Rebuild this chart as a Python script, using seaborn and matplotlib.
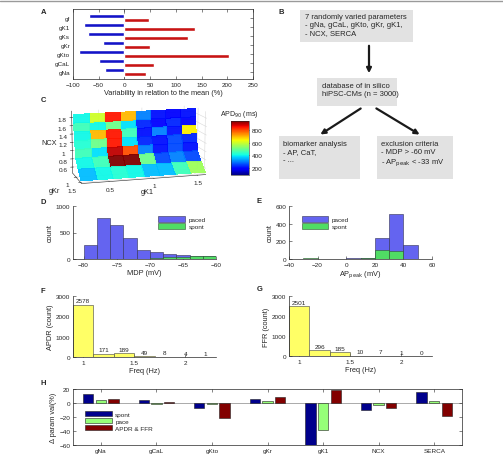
import numpy as np
import pandas as pd
import matplotlib
matplotlib.use("Agg")
import matplotlib.pyplot as plt
import seaborn as sns
from matplotlib.patches import Rectangle
from matplotlib import colors

# ---- data ----
# A: variability of parameters
a_params = ['gf', 'gK1', 'gKs', 'gKr', 'gKto', 'gCaL', 'gNa']
a_low = [-68, -79, -71, -41, -89, -49, -37]
a_high = [47, 138, 124, 50, 203, 57, 42]

# C: APD90 map (rows = NCX, cols = gK1)
c_gk1 = [0.2, 0.375, 0.55, 0.725, 0.9, 1.075, 1.25, 1.425, 1.6]
c_ncx = [1.9, 1.7, 1.5, 1.3, 1.1, 0.9, 0.7, 0.5]
c_gkr = [0.8, 0.8, 0.85, 0.9, 0.95, 1.0, 1.25, 1.55]
c_apd = [
    [400, 600, 850, 700, 300, 200, 180, 200, 200],
    [450, 400, 500, 380, 220, 180, 220, 180, 200],
    [400, 700, 850, 450, 200, 300, 200, 650, 200],
    [420, 500, 850, 380, 220, 200, 250, 220, 200],
    [450, 380, 900, 800, 300, 200, 250, 200, 200],
    [400, 450, 950, 950, 500, 250, 300, 250, 250],
    [350, 400, 420, 400, 350, 350, 450, 550, 350],
    [300, 300, 350, 400, 700, 850, 900, 850, 600],
]

# D: MDP histogram
d_edges = [-82, -80, -78, -76, -74, -72, -70, -68, -66, -64, -62, -60]
d_paced = [0, 262, 781, 637, 400, 169, 125, 87, 75, 62, 56]
d_spont = [0, 0, 0, 0, 0, 0, 20, 32, 42, 50, 55]

# E: AP peak histogram
e_edges = [-40, -30, -20, -10, 0, 10, 20, 30, 40, 50, 60]
e_paced = [0, 4, 3, 0, 8, 15, 234, 509, 162, 0]
e_spont = [0, 6, 2, 0, 3, 15, 106, 94, 0, 0]

# F, G: frequency histograms
fg_edges = [0.9, 1.1, 1.3, 1.5, 1.7, 1.9, 2.1, 2.3]
f_counts = [2578, 171, 189, 49, 8, 4, 1]
g_counts = [2501, 296, 185, 10, 7, 1, 0]

# H: parameter changes
h_params = ['gNa', 'gCaL', 'gKto', 'gKr', 'gK1', 'NCX', 'SERCA']
h_spont = [13, 4.5, -7, 5.5, -62, -10, 16]
h_pace = [4.5, -2, -2, 3, -39, -3, 3]
h_apdr = [5.5, 1.3, -22, 8, 18.5, -7, -19]

# ---- style ----
sns.set_theme(style='ticks')
plt.rcParams['font.family'] = ['Liberation Sans', 'DejaVu Sans']
plt.rcParams['xtick.labelsize'] = 4.6
plt.rcParams['ytick.labelsize'] = 4.6
plt.rcParams['axes.labelsize'] = 5.3
plt.rcParams['axes.linewidth'] = 0.5
plt.rcParams['xtick.major.width'] = 0.4
plt.rcParams['ytick.major.width'] = 0.4
plt.rcParams['xtick.major.size'] = 2
plt.rcParams['ytick.major.size'] = 2
plt.rcParams['xtick.direction'] = 'in'
plt.rcParams['ytick.direction'] = 'in'
plt.rcParams['xtick.major.pad'] = 2
plt.rcParams['ytick.major.pad'] = 2
plt.rcParams['axes.labelpad'] = 1.5
plt.rcParams['text.color'] = '#262626'
plt.rcParams['axes.labelcolor'] = '#262626'
plt.rcParams['xtick.color'] = '#262626'
plt.rcParams['ytick.color'] = '#262626'
plt.rcParams['axes.edgecolor'] = '#262626'

W, H = 503, 460
fig = plt.figure(figsize=(W / 100, H / 100), dpi=100)


def px_axes(l, t, r, b, **kw):
    return fig.add_axes([l / W, 1 - b / H, (r - l) / W, (b - t) / H], **kw)


BLUE_A, RED_A = '#1414c8', '#c81414'
PACED, SPONT = '#6464f0', '#50dc64'
YEL = '#ffff66'

# ---- C (3D) first, so 2D panels draw over its transparent box ----
ax3 = px_axes(12, 70, 262, 222, projection='3d')
ax3.set_facecolor('none')
ax3.patch.set_alpha(0)
X, Z = np.meshgrid(c_gk1, c_ncx)
Y = np.repeat(np.array(c_gkr)[:, None], len(c_gk1), axis=1)
norm = colors.Normalize(80, 950)
fc = plt.get_cmap('jet')(norm(np.array(c_apd)))
ax3.plot_surface(X, Y, Z, facecolors=fc, rstride=1, cstride=1,
                 shade=False, linewidth=0, antialiased=False, alpha=0.95)
ax3.view_init(elev=12, azim=-106)
ax3.set_xlim(0.2, 1.6)
ax3.set_ylim(1.6, 0.6)
ax3.set_zlim(0.45, 1.95)
ax3.set_xticks([0.5, 1, 1.5])
ax3.set_xticklabels(['0.5', '1', '1.5'])
ax3.set_yticks([1, 1.5])
ax3.set_yticklabels(['1', '1.5'])
ax3.set_zticks([0.6, 0.8, 1, 1.2, 1.4, 1.6, 1.8])
ax3.set_zticklabels(['0.6', '0.8', '1', '1.2', '1.4', '1.6', '1.8'])
ax3.set_xlabel('gK1', labelpad=-11)
ax3.set_ylabel('gKr', labelpad=-11)
ax3.set_zlabel('NCX', labelpad=-11)
ax3.tick_params(labelsize=4.6, pad=-4)
for axis in (ax3.xaxis, ax3.yaxis, ax3.zaxis):
    axis.set_pane_color((1, 1, 1, 0))
    axis._axinfo['grid']['color'] = (0.85, 0.85, 0.85, 1)
    axis._axinfo['grid']['linewidth'] = 0.4
    axis.line.set_linewidth(0.4)
ax3.set_box_aspect((2.4, 0.8, 1.2), zoom=0.95)

cax = px_axes(231, 122, 249, 176)
sm = plt.cm.ScalarMappable(norm=norm, cmap='jet')
cb = fig.colorbar(sm, cax=cax, ticks=[200, 400, 600, 800])
cb.outline.set_linewidth(0.4)
cax.tick_params(labelsize=4.6, length=1.5)

# ---- A ----
ax = px_axes(73, 10, 253, 80)
dfa = pd.DataFrame({'param': a_params * 2,
                    'value': a_low + a_high,
                    'kind': ['low'] * 7 + ['high'] * 7})
sns.barplot(data=dfa, y='param', x='value', hue='kind', orient='h',
            palette=[BLUE_A, RED_A], width=0.86, saturation=1,
            legend=False, ax=ax)
ax.axvline(0, color='#999999', lw=0.6, zorder=0)
ax.set_xlim(-100, 250)
ax.set_xticks([-100, -50, 0, 50, 100, 150, 200, 250])
ax.set_ylim(6.8, -1.0)
ax.set_ylabel('')
ax.set_xlabel('Variability in relation to the mean (%)')
ax.tick_params(top=True, right=True, left=False)

# ---- D ----
ax = px_axes(73, 207, 216, 260)
d_cent = [(d_edges[i] + d_edges[i + 1]) / 2 for i in range(len(d_edges) - 1)]
sns.histplot(x=d_cent, weights=d_paced, bins=d_edges, color=PACED, alpha=1,
             edgecolor='#303050', linewidth=0.4, ax=ax)
sns.histplot(x=d_cent, weights=d_spont, bins=d_edges, color=SPONT, alpha=1,
             edgecolor='#305030', linewidth=0.4, ax=ax)
ax.set_xlim(-81.6, -60)
ax.set_ylim(0, 1000)
ax.set_xticks([-80, -75, -70, -65, -60])
ax.set_yticks([0, 500, 1000])
ax.set_xlabel('MDP (mV)')
ax.set_ylabel('count')
sns.despine(ax=ax)
ax.legend(handles=[Rectangle((0, 0), 1, 1, fc=PACED, ec='#303050', lw=0.4),
                   Rectangle((0, 0), 1, 1, fc=SPONT, ec='#305030', lw=0.4)],
          labels=['paced', 'spont'], loc='upper left', bbox_to_anchor=(0.58, 0.86),
          frameon=False, fontsize=4.6, handlelength=4.2, handleheight=1.0,
          labelspacing=0.15, borderaxespad=0, handletextpad=0.5)

# ---- E ----
ax = px_axes(289, 207, 432, 260)
e_cent = [(e_edges[i] + e_edges[i + 1]) / 2 for i in range(len(e_edges) - 1)]
sns.histplot(x=e_cent, weights=e_paced, bins=e_edges, color=PACED, alpha=1,
             edgecolor='#303050', linewidth=0.4, ax=ax)
sns.histplot(x=e_cent, weights=e_spont, bins=e_edges, color=SPONT, alpha=1,
             edgecolor='#305030', linewidth=0.4, ax=ax)
ax.set_xlim(-40, 60)
ax.set_ylim(0, 600)
ax.set_xticks([-40, -20, 0, 20, 40, 60])
ax.set_yticks([0, 200, 400, 600])
ax.set_xlabel('AP$_{\\mathrm{peak}}$ (mV)')
ax.set_ylabel('count')
sns.despine(ax=ax)
ax.legend(handles=[Rectangle((0, 0), 1, 1, fc=PACED, ec='#303050', lw=0.4),
                   Rectangle((0, 0), 1, 1, fc=SPONT, ec='#305030', lw=0.4)],
          labels=['paced', 'spont'], loc='upper left', bbox_to_anchor=(0.07, 0.86),
          frameon=False, fontsize=4.6, handlelength=4.2, handleheight=1.0,
          labelspacing=0.15, borderaxespad=0, handletextpad=0.5)

# ---- F, G ----
fg_cent = [(fg_edges[i] + fg_edges[i + 1]) / 2 for i in range(len(fg_edges) - 1)]
for box, counts, ylab in [((73, 297, 216, 358), f_counts, 'APDR (count)'),
                          ((289, 297, 432, 357), g_counts, 'FFR (count)')]:
    ax = px_axes(*box)
    sns.histplot(x=fg_cent, weights=counts, bins=fg_edges, color=YEL, alpha=1,
                 edgecolor='#404040', linewidth=0.4, ax=ax)
    ax.bar_label(ax.containers[0], labels=[str(c) for c in counts],
                 fontsize=4.6, padding=1)
    ax.set_xlim(0.9, 2.3)
    ax.set_ylim(0, 3000)
    ax.set_xticks([1, 1.5, 2])
    ax.set_xticklabels(['1', '1.5', '2'])
    ax.set_yticks([0, 1000, 2000, 3000])
    ax.set_xlabel('Freq (Hz)')
    ax.set_ylabel(ylab)
    sns.despine(ax=ax)

# ---- H ----
ax = px_axes(73, 390, 462, 446)
dfh = pd.DataFrame({'param': h_params * 3,
                    'value': h_spont + h_pace + h_apdr,
                    'group': ['spont'] * 7 + ['pace'] * 7 + ['APDR & FFR'] * 7})
sns.barplot(data=dfh, x='param', y='value', hue='group',
            palette=['#00008c', '#96ff78', '#820000'], width=0.68, gap=0.18,
            edgecolor='#202020', linewidth=0.4, saturation=1, ax=ax)
ax.axhline(0, color='#888888', lw=0.5, zorder=0)
ax.set_xlim(-0.5, 6.5)
ax.set_ylim(-60, 20)
ax.set_yticks([-60, -40, -20, 0, 20])
ax.set_xlabel('')
ax.set_ylabel('Δ param val(%)')
ax.tick_params(top=True, right=True)
ax.legend(loc='upper left', bbox_to_anchor=(0.025, 0.66), frameon=False,
          fontsize=4.6, handlelength=4.2, handleheight=1.0, labelspacing=0.15,
          borderaxespad=0, handletextpad=0.5)

# ---- overlay: B flowchart, panel letters, top line ----
ov = fig.add_axes([0, 0, 1, 1])
ov.set_xlim(0, W)
ov.set_ylim(H, 0)
ov.axis('off')
ov.plot([0, W], [1.5, 1.5], color='#9a9a9a', lw=1)
box_fc = '#e2e2e2'
boxes = [
    ((300, 11, 113, 32), (305, 14), '7 randomly varied parameters\n- gNa, gCaL, gKto, gKr, gK1,\n- NCX, SERCA'),
    ((317, 79, 80, 28), (322, 83), 'database of in silico\nhiPSC-CMs (n = 3000)'),
    ((279, 137, 81, 43), (283, 141), 'biomarker analysis\n- AP, CaT,\n- ...'),
    ((377, 137, 76, 43), (381, 141), 'exclusion criteria\n- MDP > -60 mV\n- AP$_{\\mathrm{peak}}$ < -33 mV'),
]
for (bx, by, bw, bh), (tx, ty), txt in boxes:
    ov.add_patch(Rectangle((bx, by), bw, bh, fc=box_fc, ec='none'))
    ov.text(tx, ty, txt, fontsize=5.5, va='top', ha='left', linespacing=1.25)
arrow = dict(arrowstyle='-|>', color='k', lw=1.6, mutation_scale=7)
ov.annotate('', xy=(369, 77), xytext=(369, 44), arrowprops=arrow)
ov.annotate('', xy=(318, 137), xytext=(363, 108), arrowprops=arrow)
ov.annotate('', xy=(422, 137), xytext=(374, 108), arrowprops=arrow)

ov.text(220, 115, 'APD$_{90}$ (ms)', fontsize=5, va='center', ha='left')
for letter, (lx, ly) in {'A': (41, 12), 'B': (279, 12), 'C': (41, 100), 'D': (41, 203),
                         'E': (257, 202), 'F': (41, 292), 'G': (257, 290),
                         'H': (41, 384)}.items():
    ov.text(lx, ly, letter, fontsize=5.5, fontweight='bold', va='center', ha='left')

fig.savefig('out.png', dpi=100)
